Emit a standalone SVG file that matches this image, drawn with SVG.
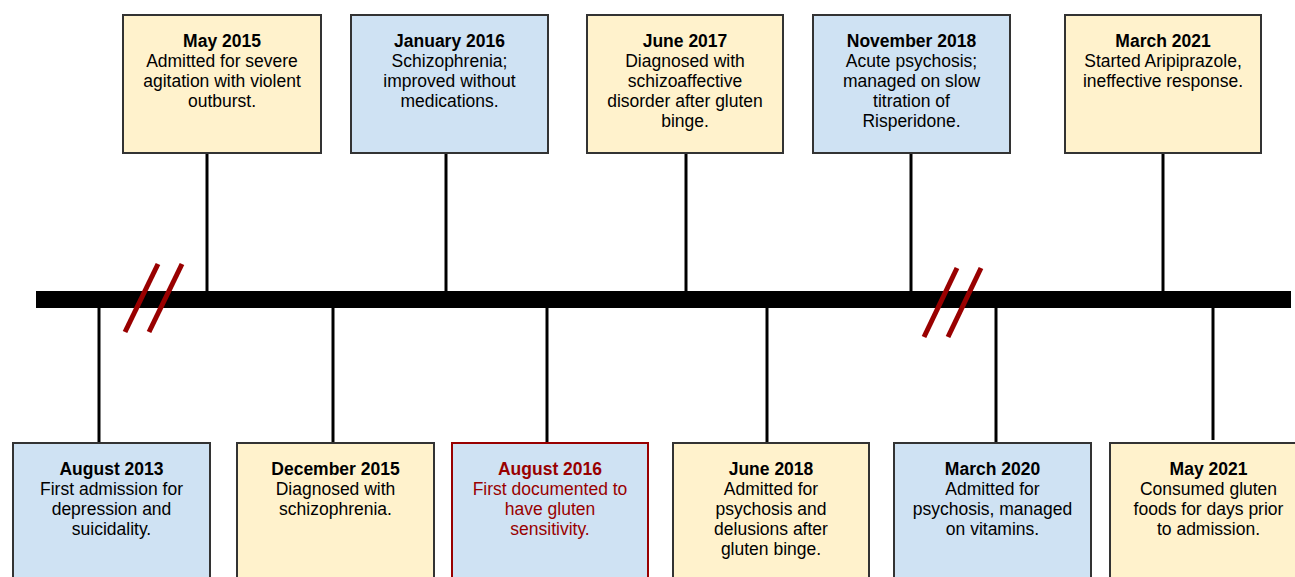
<svg xmlns="http://www.w3.org/2000/svg" width="1295" height="577" viewBox="0 0 1295 577">
<style>
.box{stroke:#333;stroke-width:2}
.y{fill:#fff2cc}
.b{fill:#cfe2f3}
.red{stroke:#990000}
text{font-family:"Liberation Sans",Arial,sans-serif;font-size:17.5px;text-anchor:middle;fill:#000}
.t{font-weight:bold}
.rt{fill:#990000}
.stem{stroke:#000;stroke-width:3}
.brk{stroke:#990000;stroke-width:5}
</style>
<rect width="1295" height="577" fill="#fff"/>
<g id="connectors">
<line class="stem" x1="207" y1="153" x2="207" y2="292"/>
<line class="stem" x1="446" y1="153" x2="446" y2="292"/>
<line class="stem" x1="686" y1="153" x2="686" y2="292"/>
<line class="stem" x1="911" y1="153" x2="911" y2="292"/>
<line class="stem" x1="1163" y1="153" x2="1163" y2="292"/>
<line class="stem" x1="99" y1="306" x2="99" y2="443"/>
<line class="stem" x1="333" y1="306" x2="333" y2="443"/>
<line class="stem" x1="547" y1="306" x2="547" y2="443"/>
<line class="stem" x1="767" y1="306" x2="767" y2="443"/>
<line class="stem" x1="996" y1="306" x2="996" y2="443"/>
<line class="stem" x1="1213" y1="306" x2="1213" y2="440"/>
</g>
<g id="timeline">
<rect x="36" y="291" width="1255" height="17" fill="#000"/>
<line class="brk" x1="158" y1="264" x2="125" y2="332"/>
<line class="brk" x1="182" y1="264" x2="149" y2="332"/>
<line class="brk" x1="957" y1="268" x2="924" y2="337"/>
<line class="brk" x1="981" y1="268" x2="948" y2="337"/>
</g>
<g id="may2015">
<rect class="box y" x="123" y="15" width="198" height="138"/>
<text x="222" y="47" class="t">May 2015</text>
<text x="222" y="67">Admitted for severe</text>
<text x="222" y="87">agitation with violent</text>
<text x="222" y="107">outburst.</text>
</g>
<g id="jan2016">
<rect class="box b" x="351" y="15" width="197" height="138"/>
<text x="449.5" y="47" class="t">January 2016</text>
<text x="449.5" y="67">Schizophrenia;</text>
<text x="449.5" y="87">improved without</text>
<text x="449.5" y="107">medications.</text>
</g>
<g id="jun2017">
<rect class="box y" x="587" y="15" width="196" height="138"/>
<text x="685" y="47" class="t">June 2017</text>
<text x="685" y="67">Diagnosed with</text>
<text x="685" y="87">schizoaffective</text>
<text x="685" y="107">disorder after gluten</text>
<text x="685" y="127">binge.</text>
</g>
<g id="nov2018">
<rect class="box b" x="813" y="15" width="197" height="138"/>
<text x="911.5" y="47" class="t">November 2018</text>
<text x="911.5" y="67">Acute psychosis;</text>
<text x="911.5" y="87">managed on slow</text>
<text x="911.5" y="107">titration of</text>
<text x="911.5" y="127">Risperidone.</text>
</g>
<g id="mar2021">
<rect class="box y" x="1065" y="15" width="196" height="138"/>
<text x="1163" y="47" class="t">March 2021</text>
<text x="1163" y="67">Started Aripiprazole,</text>
<text x="1163" y="87">ineffective response.</text>
</g>
<g id="aug2013">
<rect class="box b" x="13" y="443" width="197" height="150"/>
<text x="111.5" y="475" class="t">August 2013</text>
<text x="111.5" y="495">First admission for</text>
<text x="111.5" y="515">depression and</text>
<text x="111.5" y="535">suicidality.</text>
</g>
<g id="dec2015">
<rect class="box y" x="237" y="443" width="197" height="150"/>
<text x="335.5" y="475" class="t">December 2015</text>
<text x="335.5" y="495">Diagnosed with</text>
<text x="335.5" y="515">schizophrenia.</text>
</g>
<g id="aug2016">
<rect class="box b red" x="452" y="443" width="196" height="150"/>
<text x="550" y="475" class="t rt">August 2016</text>
<text x="550" y="495" class="rt">First documented to</text>
<text x="550" y="515" class="rt">have gluten</text>
<text x="550" y="535" class="rt">sensitivity.</text>
</g>
<g id="jun2018">
<rect class="box y" x="673" y="443" width="196" height="150"/>
<text x="771" y="475" class="t">June 2018</text>
<text x="771" y="495">Admitted for</text>
<text x="771" y="515">psychosis and</text>
<text x="771" y="535">delusions after</text>
<text x="771" y="555">gluten binge.</text>
</g>
<g id="mar2020">
<rect class="box b" x="894" y="443" width="197" height="150"/>
<text x="992.5" y="475" class="t">March 2020</text>
<text x="992.5" y="495">Admitted for</text>
<text x="992.5" y="515">psychosis, managed</text>
<text x="992.5" y="535">on vitamins.</text>
</g>
<g id="may2021">
<rect class="box y" x="1110" y="443" width="197" height="150"/>
<text x="1208.5" y="475" class="t">May 2021</text>
<text x="1208.5" y="495">Consumed gluten</text>
<text x="1208.5" y="515">foods for days prior</text>
<text x="1208.5" y="535">to admission.</text>
</g>
</svg>
